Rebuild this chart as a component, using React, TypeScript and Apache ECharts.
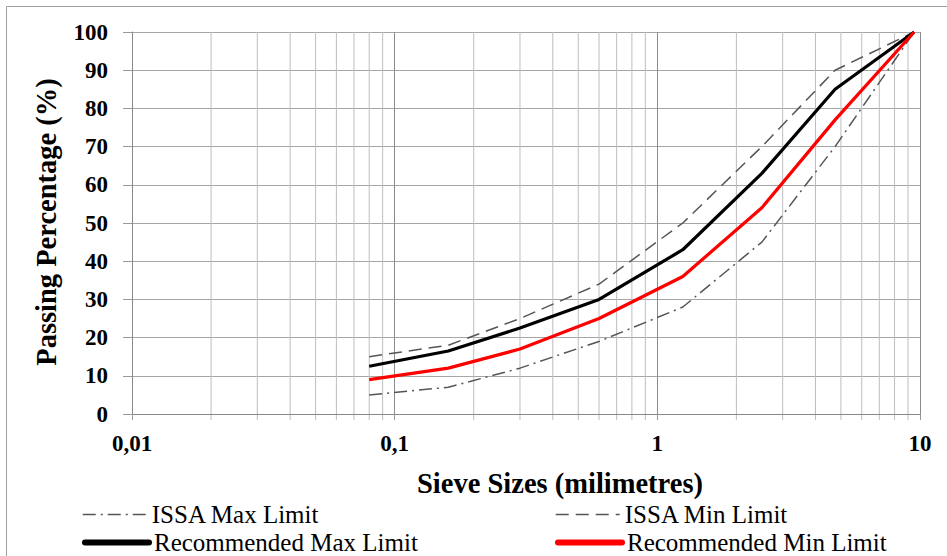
import React, { useEffect, useRef } from "react";
import * as echarts from "echarts";

// Sieve openings (mm) and passing percentages for each gradation envelope
const sieveSizes = [0.08, 0.16, 0.3, 0.6, 1.25, 2.5, 4.75, 9.5];
const issaMaxLimit = [5, 7, 12, 19, 28, 45, 70, 100];
const issaMinLimit = [15, 18, 25, 34, 50, 70, 90, 100];
const recommendedMaxLimit = [12.5, 16.5, 22.5, 30, 43, 63, 85, 100];
const recommendedMinLimit = [9, 12, 17, 25, 36, 54, 77, 100];

const seriesNames = [
  "ISSA Max Limit",
  "ISSA Min Limit",
  "Recommended Max Limit",
  "Recommended Min Limit",
];

const xTitle = "Sieve Sizes (milimetres)";
const yTitle = "Passing Percentage (%)";

const SERIF = "Liberation Serif";

// intermediate log-decade gridlines: 2..9 within each decade
const decades = [0.01, 0.1, 1];
const minorSteps = [2, 3, 4, 5, 6, 7, 8, 9];
const minorGrid: number[][] = [];
decades.forEach((d) =>
  minorSteps.forEach((k) => minorGrid.push([parseFloat((d * k).toPrecision(3)), 0]))
);

const pairs = (ys: number[]) => sieveSizes.map((x, i) => [x, ys[i]]);

export default function App() {
  const ref = useRef<HTMLDivElement>(null);

  useEffect(() => {
    if (!ref.current) return;
    const chart = echarts.init(ref.current, null, { renderer: "svg" });

    const legendText = { fontFamily: SERIF, fontSize: 25, color: "#000" };
    const legendBase = {
      orient: "horizontal" as const,
      padding: 0,
      itemWidth: 64,
      itemHeight: 14,
      itemGap: 0,
      selectedMode: false,
      textStyle: legendText,
      itemStyle: { opacity: 0 },
    };

    chart.setOption({
      animation: false,
      backgroundColor: "#fff",
      textStyle: { fontFamily: SERIF },
      grid: { left: 132, top: 32, right: 27, bottom: 142 },
      xAxis: {
        type: "log",
        logBase: 10,
        min: 0.01,
        max: 10,
        axisLine: { show: true, lineStyle: { color: "#888", width: 1 } },
        axisTick: { show: true, length: 6, lineStyle: { color: "#999" } },
        splitLine: { show: true, lineStyle: { color: "#8c8c8c", width: 1 } },
        minorTick: { show: false },
        axisLabel: {
          margin: 18,
          fontFamily: SERIF,
          fontSize: 23,
          fontWeight: "bold",
          color: "#000",
          formatter: (v: number) => String(v).replace(".", ","),
        },
      },
      yAxis: {
        type: "value",
        min: 0,
        max: 100,
        interval: 10,
        axisLine: { show: true, lineStyle: { color: "#888", width: 1 } },
        axisTick: { show: true, length: 9, lineStyle: { color: "#999" } },
        splitLine: { show: true, lineStyle: { color: "#a6a6a6", width: 1 } },
        axisLabel: {
          margin: 24,
          fontFamily: SERIF,
          fontSize: 23,
          fontWeight: "bold",
          color: "#000",
        },
      },
      legend: [
        { ...legendBase, left: 82, top: 502, data: [seriesNames[0]], lineStyle: { width: 1.5 } },
        { ...legendBase, left: 555, top: 502, data: [seriesNames[1]], lineStyle: { width: 1.5 } },
        { ...legendBase, left: 82, top: 530, data: [seriesNames[2]], lineStyle: { width: 6, cap: "round" } },
        { ...legendBase, left: 555, top: 530, data: [seriesNames[3]], lineStyle: { width: 6, cap: "round" } },
      ],
      graphic: [
        {
          type: "rect",
          silent: true,
          shape: { x: 6.5, y: 6.5, width: 980, height: 600 },
          style: { fill: "none", stroke: "#a0a0a0", lineWidth: 1 },
        },
        {
          type: "text",
          x: 46,
          y: 222,
          rotation: Math.PI / 2,
          style: {
            text: yTitle,
            fontFamily: SERIF,
            fontSize: 28.5,
            fontWeight: "bold",
            fill: "#000",
            align: "center",
            verticalAlign: "middle",
          },
        },
        {
          type: "text",
          x: 560,
          y: 483,
          style: {
            text: xTitle,
            fontFamily: SERIF,
            fontSize: 28.5,
            fontWeight: "bold",
            fill: "#000",
            align: "center",
            verticalAlign: "middle",
          },
        },
      ],
      series: [
        {
          type: "custom",
          name: "minor-grid",
          silent: true,
          clip: false,
          z: 0,
          data: minorGrid,
          renderItem: (params: any, api: any) => {
            const v = api.value(0);
            const top = api.coord([v, 100]);
            const bot = api.coord([v, 0]);
            return {
              type: "line",
              shape: { x1: bot[0], y1: top[1], x2: bot[0], y2: bot[1] + 6 },
              style: { stroke: "#bdbdbd", lineWidth: 1 },
            };
          },
        },
        {
          name: seriesNames[0],
          type: "line",
          data: pairs(issaMaxLimit),
          symbol: "none",
          z: 3,
          color: "#555",
          lineStyle: { color: "#555", width: 1.5, type: [13, 5, 2, 5] },
        },
        {
          name: seriesNames[1],
          type: "line",
          data: pairs(issaMinLimit),
          symbol: "none",
          z: 3,
          color: "#555",
          lineStyle: { color: "#555", width: 1.5, type: [13, 7] },
        },
        {
          name: seriesNames[2],
          type: "line",
          data: pairs(recommendedMaxLimit),
          symbol: "none",
          z: 4,
          color: "#000",
          lineStyle: { color: "#000", width: 3.2 },
        },
        {
          name: seriesNames[3],
          type: "line",
          data: pairs(recommendedMinLimit),
          symbol: "none",
          z: 4,
          color: "#ff0000",
          lineStyle: { color: "#ff0000", width: 3.2 },
        },
      ],
    });

    return () => chart.dispose();
  }, []);

  return (
    <div
      ref={ref}
      style={{ position: "fixed", left: 0, top: 0, width: 947, height: 556 }}
    />
  );
}
